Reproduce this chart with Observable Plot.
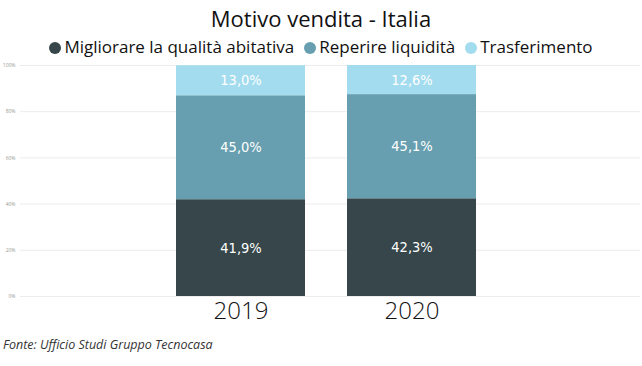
<!DOCTYPE html>
<html><head><meta charset="utf-8">
<script src="https://cdn.jsdelivr.net/npm/d3@7"></script>
<script src="https://cdn.jsdelivr.net/npm/@observablehq/plot@0.6"></script>
<style>
body{margin:0;background:#fff;width:642px;height:366px;overflow:hidden;font-family:"Open Sans","Noto Sans",sans-serif;}
#title{height:36px;line-height:36px;text-align:center;font-size:22px;color:#111;}
#legend{height:22px;line-height:22px;text-align:center;font-size:17px;color:#111;white-space:nowrap;}
#legend span.item{margin:0 5px;}
#legend span.dot{display:inline-block;width:12px;height:12px;border-radius:50%;margin-right:3px;vertical-align:-1px;}
#chart{height:275px;}
#caption{height:24px;line-height:24px;font-size:12.5px;font-style:italic;color:#333;padding-left:3px;}
</style></head>
<body>
<div id="title">Motivo vendita - Italia</div>
<div id="legend"></div>
<div id="chart"></div>
<div id="caption">Fonte: Ufficio Studi Gruppo Tecnocasa</div>
<script>
const years = ["2019", "2020"];
const categories = ["Migliorare la qualità abitativa", "Reperire liquidità", "Trasferimento"];
const colors = ["#36464a", "#679fb0", "#a3dcee"];
const migliorare = [41.9, 42.3];
const reperire = [45.0, 45.1];
const trasferimento = [13.0, 12.6];
const yTicks = [0, 20, 40, 60, 80, 100];

const series = [migliorare, reperire, trasferimento];
const data = [];
categories.forEach((c, i) => years.forEach((y, j) => data.push({year: y, cat: c, value: series[i][j]})));

const legend = document.getElementById("legend");
categories.forEach((c, i) => {
  const s = document.createElement("span");
  s.className = "item";
  s.innerHTML = `<span class="dot" style="background:${colors[i]}"></span>${c}`;
  legend.appendChild(s);
});

const fmt = v => v.toFixed(1).replace(".", ",") + "%";

const chart = Plot.plot({
  width: 642,
  height: 275,
  marginTop: 7,
  marginBottom: 37,
  marginLeft: 20,
  marginRight: 2,
  style: {fontFamily: "Open Sans, sans-serif", background: "transparent"},
  x: {domain: years, range: [175, 477], paddingInner: 0.244, paddingOuter: 0, label: null},
  y: {domain: [0, 100], label: null},
  color: {domain: categories, range: colors},
  marks: [
    Plot.ruleY(yTicks, {stroke: "#ececec", strokeWidth: 1}),
    Plot.axisY({ticks: yTicks, tickSize: 0, tickPadding: 5, fontSize: 5, fill: "#999", tickFormat: d => d + "%", label: null}),
    Plot.barY(data, {x: "year", y: "value", fill: "cat", order: categories}),
    Plot.text(data, Plot.stackY({x: "year", y: "value", z: "cat", order: categories, text: d => fmt(d.value), fill: "white", fontSize: 14.5, fontWeight: 500, fontFamily: "DejaVu Sans Condensed, DejaVu Sans, sans-serif"})),
    Plot.axisX({tickSize: 0, tickPadding: 5, fontSize: 24, fontWeight: 300, fill: "#111", label: null})
  ]
});
document.getElementById("chart").appendChild(chart);
</script>
</body></html>
